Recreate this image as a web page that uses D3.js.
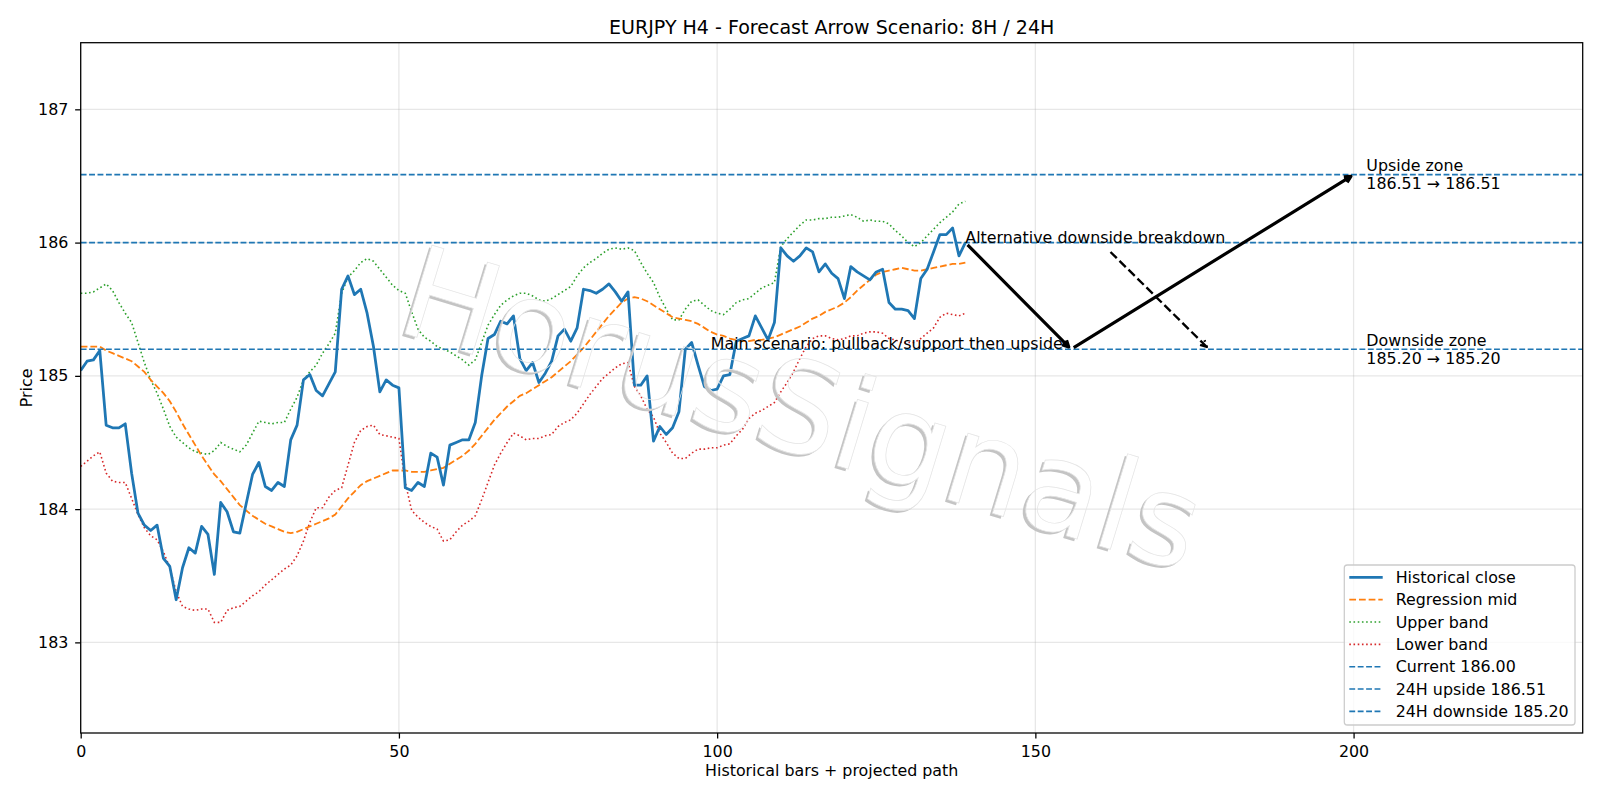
<!DOCTYPE html>
<html>
<head>
<meta charset="utf-8">
<script src="https://cdnjs.cloudflare.com/ajax/libs/d3/7.8.5/d3.min.js"></script>
<style>
  body { margin: 0; background: #ffffff; }
  text { font-family: "DejaVu Sans", sans-serif; }
</style>
</head>
<body>
<div id="chart"></div>
<script>
// ---- data ----
var closeVals = [185.04, 185.11, 185.12, 185.19, 184.63, 184.61, 184.61, 184.64, 184.27, 183.97,
  183.88, 183.84, 183.88, 183.63, 183.57, 183.32, 183.56, 183.71, 183.67, 183.87,
  183.81, 183.51, 184.05, 183.98, 183.83, 183.82, 184.04, 184.26, 184.35, 184.17,
  184.14, 184.20, 184.17, 184.52, 184.63, 184.97, 185.01, 184.89, 184.85, 184.94,
  185.03, 185.65, 185.75, 185.61, 185.65, 185.47, 185.22, 184.88, 184.97, 184.93,
  184.91, 184.16, 184.14, 184.20, 184.17, 184.42, 184.39, 184.18, 184.48, 184.50,
  184.52, 184.52, 184.65, 185.00, 185.28, 185.31, 185.41, 185.39, 185.45, 185.13,
  185.04, 185.10, 184.95, 185.02, 185.11, 185.30, 185.35, 185.26, 185.36, 185.65,
  185.64, 185.62, 185.65, 185.69, 185.63, 185.56, 185.63, 184.93, 184.93, 185.00,
  184.51, 184.62, 184.56, 184.61, 184.73, 185.20, 185.25, 185.08, 184.92, 184.89,
  184.90, 185.00, 185.01, 185.26, 185.28, 185.30, 185.45, 185.36, 185.27, 185.40,
  185.96, 185.90, 185.86, 185.90, 185.96, 185.93, 185.78, 185.84, 185.77, 185.73,
  185.58, 185.82, 185.78, 185.75, 185.72, 185.78, 185.80, 185.55, 185.50, 185.50,
  185.49, 185.43, 185.73, 185.80, 185.93, 186.06, 186.06, 186.11, 185.90, 186.00];

var midVals = [185.22, 185.22, 185.22, 185.22, 185.19, 185.17, 185.15, 185.13, 185.11, 185.07,
  185.03, 184.97, 184.92, 184.87, 184.81, 184.73, 184.64, 184.56, 184.48, 184.40,
  184.33, 184.26, 184.21, 184.15, 184.09, 184.03, 183.99, 183.95, 183.92, 183.89,
  183.87, 183.85, 183.83, 183.82, 183.83, 183.85, 183.87, 183.89, 183.91, 183.93,
  183.96, 184.02, 184.08, 184.13, 184.18, 184.21, 184.23, 184.25, 184.27, 184.29,
  184.29, 184.29, 184.28, 184.28, 184.28, 184.29, 184.30, 184.31, 184.34, 184.37,
  184.40, 184.44, 184.49, 184.55, 184.61, 184.67, 184.72, 184.77, 184.81, 184.85,
  184.87, 184.90, 184.93, 184.96, 184.99, 185.03, 185.07, 185.11, 185.16, 185.21,
  185.27, 185.33, 185.39, 185.45, 185.50, 185.55, 185.58, 185.59, 185.58, 185.56,
  185.53, 185.50, 185.47, 185.44, 185.43, 185.42, 185.41, 185.39, 185.36, 185.33,
  185.31, 185.30, 185.28, 185.27, 185.26, 185.26, 185.27, 185.27, 185.28, 185.29,
  185.31, 185.33, 185.35, 185.37, 185.40, 185.43, 185.45, 185.48, 185.50, 185.52,
  185.55, 185.59, 185.64, 185.68, 185.72, 185.76, 185.78, 185.79, 185.80, 185.81,
  185.80, 185.79, 185.79, 185.80, 185.81, 185.82, 185.83, 185.84, 185.84, 185.85];

var upperVals = [185.62, 185.62, 185.63, 185.66, 185.69, 185.64, 185.55, 185.47, 185.40, 185.25,
  185.10, 184.97, 184.87, 184.75, 184.62, 184.54, 184.50, 184.46, 184.43, 184.42,
  184.41, 184.44, 184.50, 184.47, 184.45, 184.43, 184.48, 184.57, 184.66, 184.65,
  184.64, 184.65, 184.65, 184.75, 184.84, 184.97, 185.03, 185.08, 185.17, 185.24,
  185.32, 185.62, 185.74, 185.79, 185.85, 185.88, 185.86, 185.80, 185.74, 185.68,
  185.64, 185.62, 185.48, 185.35, 185.29, 185.26, 185.22, 185.20, 185.18, 185.15,
  185.12, 185.08, 185.12, 185.25, 185.38, 185.46, 185.53, 185.57, 185.60, 185.62,
  185.62, 185.60, 185.57, 185.56, 185.58, 185.61, 185.64, 185.67, 185.75, 185.81,
  185.85, 185.88, 185.92, 185.95, 185.96, 185.95, 185.96, 185.94, 185.85, 185.77,
  185.70, 185.59, 185.50, 185.42, 185.42, 185.50, 185.56, 185.57, 185.53, 185.49,
  185.47, 185.46, 185.50, 185.55, 185.57, 185.58, 185.62, 185.66, 185.68, 185.70,
  185.97, 186.03, 186.08, 186.13, 186.17, 186.17, 186.18, 186.18, 186.19, 186.19,
  186.20, 186.21, 186.19, 186.16, 186.17, 186.16, 186.16, 186.14, 186.09, 186.05,
  186.00, 185.97, 186.00, 186.05, 186.10, 186.15, 186.19, 186.23, 186.29, 186.31];

var lowerVals = [184.32, 184.36, 184.40, 184.43, 184.27, 184.21, 184.20, 184.20, 184.08, 183.96,
  183.86, 183.80, 183.77, 183.68, 183.56, 183.38, 183.27, 183.25, 183.24, 183.25,
  183.25, 183.15, 183.15, 183.24, 183.26, 183.27, 183.31, 183.35, 183.38, 183.43,
  183.47, 183.51, 183.55, 183.58, 183.65, 183.76, 183.90, 184.01, 184.01, 184.09,
  184.14, 184.16, 184.33, 184.50, 184.59, 184.62, 184.63, 184.56, 184.55, 184.54,
  184.53, 184.20, 183.99, 183.94, 183.90, 183.87, 183.85, 183.76, 183.77, 183.83,
  183.88, 183.91, 183.95, 184.07, 184.20, 184.33, 184.42, 184.50, 184.57, 184.55,
  184.52, 184.53, 184.53, 184.55, 184.56, 184.62, 184.65, 184.67, 184.72, 184.79,
  184.86, 184.92, 184.98, 185.02, 185.06, 185.09, 185.10, 184.92, 184.85, 184.75,
  184.69, 184.57, 184.50, 184.42, 184.38, 184.38, 184.42, 184.45, 184.45, 184.46,
  184.46, 184.48, 184.49, 184.55, 184.60, 184.68, 184.72, 184.74, 184.77, 184.80,
  184.88, 184.95, 185.03, 185.13, 185.22, 185.28, 185.30, 185.30, 185.28, 185.27,
  185.28, 185.30, 185.30, 185.32, 185.33, 185.33, 185.32, 185.28, 185.27, 185.25,
  185.25, 185.25, 185.28, 185.32, 185.36, 185.44, 185.47, 185.46, 185.45, 185.47];

var currentPrice = 186.00;
var upsideTarget = 186.51;
var downsideTarget = 185.20;

// projected path: pullback to support, then up to the upside target
var mainPathX = [139, 155.6, 200];
var mainPathY = [186.00, 185.20, 186.51];
// alternative breakdown arrow (text anchor -> target)
var altText = [139, 186.00];
var altTarget = [177.3, 185.20];
var mainText = [99, 185.20];
var zoneX = 202;

var xTicks = [0, 50, 100, 150, 200];
var yTicks = [183, 184, 185, 186, 187];
var xDomain = [0, 236];
var yDomain = [182.32, 187.5];

var legendLabels = ["Historical close", "Regression mid", "Upper band", "Lower band",
  "Current 186.00", "24H upside 186.51", "24H downside 185.20"];

// ---- layout ----
var svgWidth = 1600;
var svgHeight = 800;
var margin = { top: 42.7, right: 17.3, bottom: 67, left: 80.7 };
var width = svgWidth - margin.left - margin.right;
var height = svgHeight - margin.top - margin.bottom;

var C0 = "#1f77b4", C1 = "#ff7f0e", C2 = "#2ca02c", C3 = "#d62728";
var pt = 1600 / 14 / 72; // pixels per point
var fs = 10 * pt;

var svg = d3.select("#chart")
  .append("svg")
  .attr("width", svgWidth)
  .attr("height", svgHeight);

svg.append("rect").attr("width", svgWidth).attr("height", svgHeight).attr("fill", "#fff");

var defs = svg.append("defs");
defs.append("clipPath").attr("id", "plotClip")
  .append("rect").attr("width", width).attr("height", height);

var chartGroup = svg.append("g")
  .attr("transform", `translate(${margin.left}, ${margin.top})`);

var xScale = d3.scaleLinear().domain(xDomain).range([0, width]);
var yScale = d3.scaleLinear().domain(yDomain).range([height, 0]);

// grid
var gridGroup = chartGroup.append("g");
gridGroup.selectAll(".vgrid").data(xTicks).enter().append("line")
  .attr("x1", d => xScale(d)).attr("x2", d => xScale(d))
  .attr("y1", 0).attr("y2", height)
  .attr("stroke", "#b0b0b0").attr("stroke-opacity", 0.3).attr("stroke-width", 0.8 * pt);
gridGroup.selectAll(".hgrid").data(yTicks).enter().append("line")
  .attr("x1", 0).attr("x2", width)
  .attr("y1", d => yScale(d)).attr("y2", d => yScale(d))
  .attr("stroke", "#b0b0b0").attr("stroke-opacity", 0.3).attr("stroke-width", 0.8 * pt);

// watermark (shadow slivers only, masked by the letter shapes)
var wmText = "HorusSignals";
var wmX = 789, wmY = 451, wmAngle = 17, wmSize = 127;
var wmMask = defs.append("mask").attr("id", "wmMask")
  .attr("maskUnits", "userSpaceOnUse")
  .attr("x", -1200).attr("y", -600).attr("width", 2400).attr("height", 1200);
wmMask.append("rect").attr("x", -1200).attr("y", -600).attr("width", 2400).attr("height", 1200)
  .attr("fill", "white");
wmMask.append("text").text(wmText)
  .attr("text-anchor", "middle").attr("font-size", wmSize).attr("fill", "black");

var wmGroup = svg.append("g")
  .attr("transform", `translate(${wmX}, ${wmY}) rotate(${wmAngle})`);
wmGroup.append("text").text(wmText)
  .attr("x", -2).attr("y", 3)
  .attr("text-anchor", "middle").attr("font-size", wmSize)
  .attr("fill", "#c4c4c4")
  .attr("mask", "url(#wmMask)");
wmGroup.append("text").text(wmText)
  .attr("text-anchor", "middle").attr("font-size", wmSize)
  .attr("fill", "none").attr("stroke", "#e4e4e4").attr("stroke-width", 0.7);

// series
var plotGroup = chartGroup.append("g").attr("clip-path", "url(#plotClip)");
var seriesLine = d3.line().x((d, i) => xScale(i)).y(d => yScale(d));

var dotted = `${1 * pt},${1.65 * pt}`;
var midDash = `${3.7 * 1.15 * pt},${1.6 * 1.15 * pt}`;
var levelDash = `${3.7 * pt},${1.6 * pt}`;

plotGroup.append("path").datum(upperVals)
  .attr("d", seriesLine).attr("fill", "none")
  .attr("stroke", C2).attr("stroke-width", pt).attr("stroke-dasharray", dotted);
plotGroup.append("path").datum(lowerVals)
  .attr("d", seriesLine).attr("fill", "none")
  .attr("stroke", C3).attr("stroke-width", pt).attr("stroke-dasharray", dotted);
plotGroup.append("path").datum(midVals)
  .attr("d", seriesLine).attr("fill", "none")
  .attr("stroke", C1).attr("stroke-width", 1.15 * pt).attr("stroke-dasharray", midDash);
plotGroup.append("path").datum(closeVals)
  .attr("d", seriesLine).attr("fill", "none")
  .attr("stroke", C0).attr("stroke-width", 1.75 * pt).attr("stroke-linejoin", "round");

// horizontal levels
plotGroup.selectAll(".level").data([currentPrice, upsideTarget, downsideTarget]).enter()
  .append("line")
  .attr("x1", 0).attr("x2", width)
  .attr("y1", d => yScale(d)).attr("y2", d => yScale(d))
  .attr("stroke", C0).attr("stroke-width", pt).attr("stroke-dasharray", levelDash);

// arrows ("->" style, mutation scale = 10pt)
function drawArrow(g, p0, p1, lw, dash, shrinkA) {
  var dx = p1[0] - p0[0], dy = p1[1] - p0[1];
  var len = Math.sqrt(dx * dx + dy * dy);
  var ux = dx / len, uy = dy / len;
  var sB = 2 * pt;
  var sx = p0[0] + ux * shrinkA, sy = p0[1] + uy * shrinkA;
  var ex = p1[0] - ux * sB, ey = p1[1] - uy * sB;
  var hl = 0.4 * fs, hw = 0.2 * fs;
  var bx = ex - ux * hl, by = ey - uy * hl;
  var d = `M${sx},${sy}L${ex},${ey}` +
    `M${bx - uy * hw},${by + ux * hw}L${ex},${ey}L${bx + uy * hw},${by - ux * hw}`;
  g.append("path").attr("d", d)
    .attr("fill", "none").attr("stroke", "#000").attr("stroke-width", lw)
    .attr("stroke-linejoin", "round")
    .attr("stroke-dasharray", dash || null);
}

var arrowGroup = chartGroup.append("g");
for (var k = 0; k < mainPathX.length - 1; k++) {
  drawArrow(arrowGroup,
    [xScale(mainPathX[k]), yScale(mainPathY[k])],
    [xScale(mainPathX[k + 1]), yScale(mainPathY[k + 1])],
    2 * pt, null, 2 * pt);
}

// annotation texts
chartGroup.append("text")
  .attr("x", xScale(mainText[0])).attr("y", yScale(mainText[1]))
  .attr("font-size", fs).attr("fill", "#000")
  .text("Main scenario: pullback/support then upside");

var altLabel = chartGroup.append("text")
  .attr("x", xScale(altText[0])).attr("y", yScale(altText[1]))
  .attr("font-size", fs).attr("fill", "#000")
  .text("Alternative downside breakdown");

// dashed arrow from the label box to the breakdown target
var bb = altLabel.node().getBBox();
var cx = bb.x + bb.width / 2, cy = bb.y + bb.height / 2;
var tx = xScale(altTarget[0]), ty = yScale(altTarget[1]);
var adx = tx - cx, ady = ty - cy;
var alen = Math.sqrt(adx * adx + ady * ady);
var aux = adx / alen, auy = ady / alen;
var hwBox = bb.width / 2 + 2 * pt, hhBox = bb.height / 2 + 2 * pt;
var tExit = Math.min(hwBox / Math.abs(aux), hhBox / Math.abs(auy));
drawArrow(arrowGroup, [cx + aux * tExit, cy + auy * tExit], [tx, ty],
  1.5 * pt, `${3.7 * 1.5 * pt},${1.6 * 1.5 * pt}`, 2 * pt);

// zone labels
var zones = [
  { name: "Upside zone", level: upsideTarget },
  { name: "Downside zone", level: downsideTarget }
];
zones.forEach(function (z) {
  var t = chartGroup.append("text")
    .attr("x", xScale(zoneX)).attr("y", yScale(z.level))
    .attr("font-size", fs).attr("fill", "#000");
  t.append("tspan").attr("x", xScale(zoneX)).attr("dy", -9)
    .attr("dominant-baseline", "central").text(z.name);
  t.append("tspan").attr("x", xScale(zoneX)).attr("dy", 18)
    .attr("dominant-baseline", "central")
    .text(z.level.toFixed(2) + " \u2192 " + z.level.toFixed(2));
});

// axes
var xAxis = chartGroup.append("g")
  .attr("transform", `translate(0, ${height})`)
  .call(d3.axisBottom(xScale).tickValues(xTicks).tickFormat(d3.format("d"))
    .tickSize(3.5 * pt).tickPadding(6.9).tickSizeOuter(0));
var yAxis = chartGroup.append("g")
  .call(d3.axisLeft(yScale).tickValues(yTicks).tickFormat(d3.format("d"))
    .tickSize(3.5 * pt).tickPadding(6.8).tickSizeOuter(0));
[xAxis, yAxis].forEach(function (a) {
  a.select(".domain").remove();
  a.attr("font-family", "DejaVu Sans").attr("font-size", fs);
  a.selectAll("line").attr("stroke", "#000").attr("stroke-width", 0.8 * pt);
  a.selectAll("text").attr("fill", "#000");
});

// spines
chartGroup.append("rect")
  .attr("width", width).attr("height", height)
  .attr("fill", "none").attr("stroke", "#000").attr("stroke-width", 0.8 * pt);

// titles
svg.append("text")
  .attr("x", margin.left + width / 2).attr("y", 34)
  .attr("text-anchor", "middle").attr("font-size", 12 * pt).attr("fill", "#000")
  .text("EURJPY H4 - Forecast Arrow Scenario: 8H / 24H");
svg.append("text")
  .attr("x", margin.left + width / 2).attr("y", 776)
  .attr("text-anchor", "middle").attr("font-size", fs).attr("fill", "#000")
  .text("Historical bars + projected path");
svg.append("text")
  .attr("transform", `translate(26, ${margin.top + height / 2}) rotate(-90)`)
  .attr("text-anchor", "middle").attr("dominant-baseline", "central")
  .attr("font-size", fs).attr("fill", "#000")
  .text("Price");

// legend
var legendStyles = [
  { color: C0, w: 1.75 * pt, dash: null },
  { color: C1, w: 1.15 * pt, dash: midDash },
  { color: C2, w: pt, dash: dotted },
  { color: C3, w: pt, dash: dotted },
  { color: C0, w: pt, dash: levelDash },
  { color: C0, w: pt, dash: levelDash },
  { color: C0, w: pt, dash: levelDash }
];
var legendGroup = svg.append("g").attr("transform", "translate(1344.3, 565)");
legendGroup.append("rect")
  .attr("width", 230.7).attr("height", 160).attr("rx", 3)
  .attr("fill", "#fff").attr("fill-opacity", 0.8)
  .attr("stroke", "#cccccc").attr("stroke-width", 0.8 * pt);
legendLabels.forEach(function (label, i) {
  var yy = 12.3 + i * 22.35;
  var st = legendStyles[i];
  legendGroup.append("line")
    .attr("x1", 5).attr("x2", 38.4).attr("y1", yy).attr("y2", yy)
    .attr("stroke", st.color).attr("stroke-width", st.w)
    .attr("stroke-dasharray", st.dash);
  legendGroup.append("text")
    .attr("x", 51.4).attr("y", yy)
    .attr("dominant-baseline", "central")
    .attr("font-size", fs).attr("fill", "#000")
    .text(label);
});
</script>
</body>
</html>
